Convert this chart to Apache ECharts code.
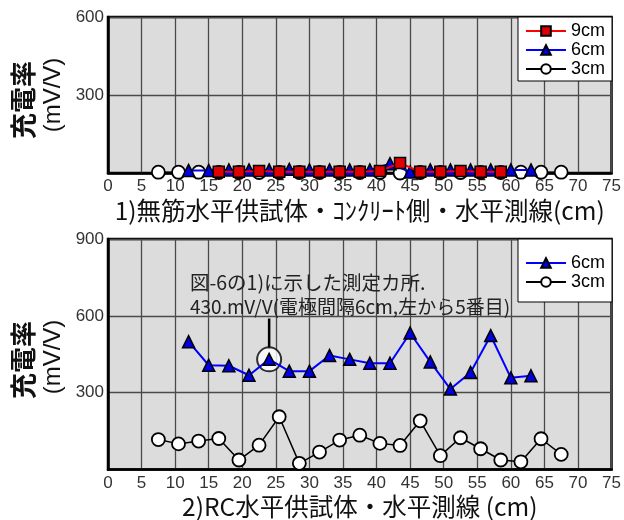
<!DOCTYPE html>
<html><head><meta charset="utf-8">
<script src="https://cdn.jsdelivr.net/npm/echarts@6/dist/echarts.min.js"></script>
<style>html,body{margin:0;padding:0;background:#fff}#c{width:624px;height:520px}</style>
</head><body><div id="c"></div>
<script>
// ---- Data ----
const topX3 = [7.5,10.5,13.5,16.5,19.5,22.5,25.5,28.5,31.5,34.5,37.5,40.5,43.5,46.5,49.5,52.5,55.5,58.5,61.5,64.5,67.5];
const top3cm = [3,3,3,2,2,2,2,2,2,2,2,2,0,2,2,2,2,2,3,3,3];
const topX6 = [12,15,18,21,24,27,30,33,36,39,42,45,48,51,54,57,60,63];
const top6cm = [10,10,12,12,12,14,12,12,12,12,36,4,12,12,12,12,12,12];
const topX9 = [16.5,19.5,22.5,25.5,28.5,31.5,34.5,37.5,40.5,43.5,46.5,49.5,52.5,55.5,58.5];
const top9cm = [5,5,8,5,5,5,5,5,8,38,5,5,8,5,5];

const botX6 = [12,15,18,21,24,27,30,33,36,39,42,45,48,51,54,57,60,63];
const bot6cm = [499,407,405,368,430,384,384,445,430,415,415,533,420,314,379,523,358,366];
const botX3 = [7.5,10.5,13.5,16.5,19.5,22.5,25.5,28.5,31.5,34.5,37.5,40.5,43.5,46.5,49.5,52.5,55.5,58.5,61.5,64.5,67.5];
const bot3cm = [117,100,111,121,37,95,206,24,68,115,134,102,94,190,54,124,81,37,30,120,59];

const markPt = [24, 430];
const markLine = [[24, 470], [24, 590]];
const noteLines = ['図-6の1)に示した測定カ所.', '430.mV/V(電極間隔6cm,左から5番目)'];

const xName1 = '1)無筋水平供試体・ｺﾝｸﾘｰﾄ側・水平測線(cm)';
const xName2 = '2)RC水平供試体・水平測線 (cm)';
const yName1 = '充電率';
const yName2 = '(mV/V)';

const pair = (xs, ys) => xs.map((x, i) => [x, ys[i]]);

const JP = '"Noto Sans CJK JP", "Noto Sans", sans-serif';
const NUM = '"Liberation Sans", Arial, sans-serif';

function xAxis(gi, name) {
  return {
    gridIndex: gi, type: 'value', min: 0, max: 75, interval: 5,
    name: name, nameLocation: 'middle', nameGap: 25,
    nameTextStyle: {fontFamily: JP, fontSize: 24.5, color: '#111'},
    axisLine: {show: true, lineStyle: {color: '#000', width: 2.5}},
    axisTick: {show: false},
    axisLabel: {fontFamily: NUM, fontSize: 17, color: '#333', margin: 5},
    splitLine: {show: true, lineStyle: {color: '#4a4a4a', width: 1.3}}
  };
}
function yAxis(gi, max) {
  return {
    gridIndex: gi, type: 'value', min: 0, max: max, interval: 300,
    axisLine: {show: true, lineStyle: {color: '#000', width: 2.5}},
    axisTick: {show: false},
    axisLabel: {fontFamily: NUM, fontSize: 17, color: '#333', margin: 4, showMinLabel: false},
    splitLine: {show: true, lineStyle: {color: '#4a4a4a', width: 1.3}}
  };
}

const lineStyleRed = {color: '#ff0000', width: 2};
const lineStyleBlue = {color: '#0000ff', width: 2};
const lineStyleBlack = {color: '#000', width: 1.5};

const s9 = (xi, yi, d) => ({name: '9cm', type: 'line', xAxisIndex: xi, yAxisIndex: yi, data: d,
  symbol: 'rect', symbolSize: 11, lineStyle: lineStyleRed,
  itemStyle: {color: '#e00000', borderColor: '#000', borderWidth: 1.5}, z: 5});
const s6 = (xi, yi, d) => ({name: '6cm', type: 'line', xAxisIndex: xi, yAxisIndex: yi, data: d,
  symbol: 'triangle', symbolSize: 12, lineStyle: lineStyleBlue,
  itemStyle: {color: '#0000e0', borderColor: '#000', borderWidth: 1.5}, z: 4});
const s3 = (xi, yi, d) => ({name: '3cm', type: 'line', xAxisIndex: xi, yAxisIndex: yi, data: d,
  symbol: 'circle', symbolSize: 13, lineStyle: lineStyleBlack,
  itemStyle: {color: '#fff', borderColor: '#000', borderWidth: 1.8}, z: 3});

const legendCommon = {
  orient: 'vertical', right: 12, backgroundColor: '#fff', borderColor: '#000', borderWidth: 1,
  borderRadius: 0, itemWidth: 40, itemHeight: 12, itemGap: 1,
  textStyle: {fontFamily: NUM, fontSize: 18, color: '#000'}
};

const chart = echarts.init(document.getElementById('c'), null, {renderer: 'canvas'});
const option = {
  animation: false,
  grid: [
    {left: 108, right: 12, top: 17, bottom: 347, show: true, backgroundColor: '#dcdcdc', borderColor: '#000', borderWidth: 2.5},
    {left: 108, right: 12, top: 239, bottom: 48, show: true, backgroundColor: '#dcdcdc', borderColor: '#000', borderWidth: 2.5}
  ],
  xAxis: [xAxis(0, xName1), xAxis(1, xName2)],
  yAxis: [yAxis(0, 600), yAxis(1, 900)],
  legend: [
    Object.assign({}, legendCommon, {top: 17, padding: [5, 7, 3, 7], data: ['9cm', '6cm', '3cm']}),
    Object.assign({}, legendCommon, {top: 239, padding: [15, 7, 11, 7], data: ['6cm', '3cm']})
  ],
  series: [
    s3(0, 0, pair(topX3, top3cm)),
    s6(0, 0, pair(topX6, top6cm)),
    s9(0, 0, pair(topX9, top9cm)),
    s3(1, 1, pair(botX3, bot3cm)),
    {type: 'line', xAxisIndex: 1, yAxisIndex: 1, data: markLine, symbol: 'none',
      lineStyle: {color: '#000', width: 2.5}, z: 2, silent: true},
    {type: 'scatter', xAxisIndex: 1, yAxisIndex: 1, data: [markPt], symbol: 'circle', symbolSize: 24,
      itemStyle: {color: '#fff', borderColor: '#000', borderWidth: 2}, z: 3, silent: true},
    s6(1, 1, pair(botX6, bot6cm))
  ],
  graphic: [
    {type: 'text', x: 190, y: 283, style: {text: noteLines[0], fontFamily: JP, fontSize: 19.5, fill: '#222', verticalAlign: 'middle'}, z: 10},
    {type: 'text', x: 190, y: 307, style: {text: noteLines[1], fontFamily: JP, fontSize: 19, fill: '#222', verticalAlign: 'middle'}, z: 10},
    {type: 'text', x: 23, y: 100, rotation: Math.PI / 2, style: {text: yName1, fontFamily: JP, fontWeight: 'bold', fontSize: 26, fill: '#111', align: 'center', verticalAlign: 'middle'}},
    {type: 'text', x: 53, y: 95, rotation: Math.PI / 2, style: {text: yName2, fontFamily: NUM, fontSize: 24, fill: '#111', align: 'center', verticalAlign: 'middle'}},
    {type: 'text', x: 23, y: 360, rotation: Math.PI / 2, style: {text: yName1, fontFamily: JP, fontWeight: 'bold', fontSize: 26, fill: '#111', align: 'center', verticalAlign: 'middle'}},
    {type: 'text', x: 53, y: 357, rotation: Math.PI / 2, style: {text: yName2, fontFamily: NUM, fontSize: 24, fill: '#111', align: 'center', verticalAlign: 'middle'}}
  ]
};
chart.setOption(option);
</script>
</body></html>
